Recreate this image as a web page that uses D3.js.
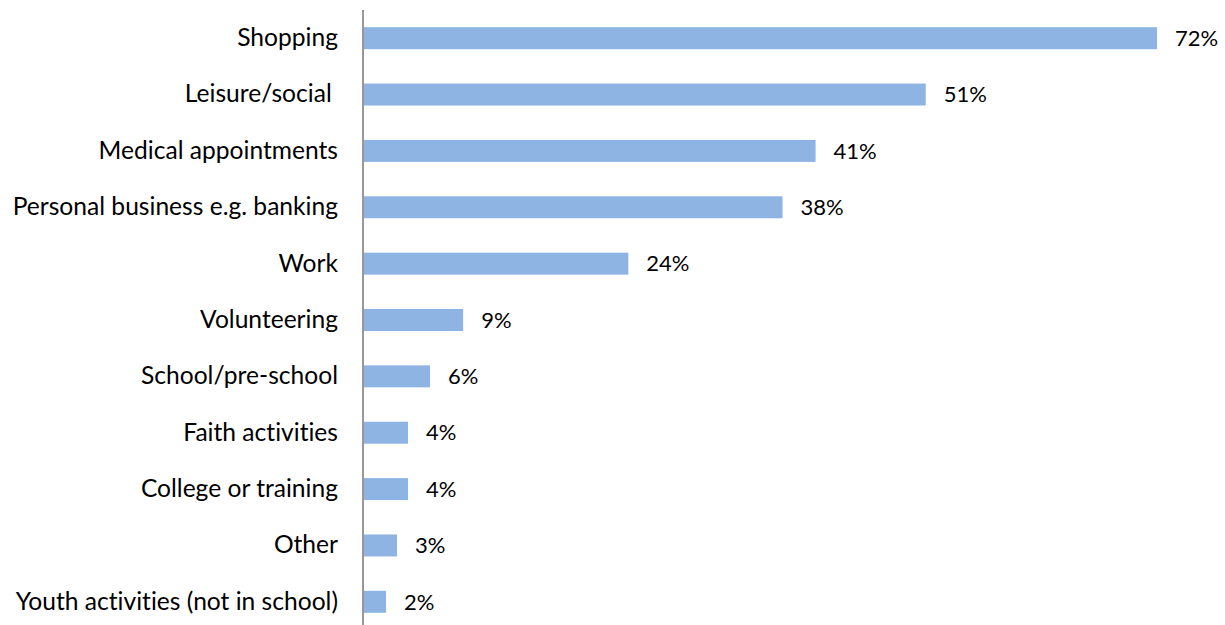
<!DOCTYPE html>
<html>
<head>
<meta charset="utf-8">
<script src="https://cdn.jsdelivr.net/npm/d3@7"></script>
<style>
  body { margin: 0; background: #fff; }
  text { font-family: Lato, sans-serif; fill: #000; font-variant-ligatures: none; }
</style>
</head>
<body>
<script>
// Data
var categories = ["Shopping", "Leisure/social ", "Medical appointments", "Personal business e.g. banking",
  "Work", "Volunteering", "School/pre-school", "Faith activities", "College or training",
  "Other", "Youth activities (not in school)"];
var values = [72, 51, 41, 38, 24, 9, 6, 4, 4, 3, 2];

var svgWidth = 1225;
var svgHeight = 625;
var margin = {top: 10, right: 20, bottom: 0, left: 364};

var svg = d3.select("body")
  .append("svg")
  .attr("width", svgWidth)
  .attr("height", svgHeight);

var chartGroup = svg.append("g")
  .attr("transform", `translate(${margin.left}, ${margin.top})`);

// 11 px per percent
var xScale = d3.scaleLinear().domain([0, 72]).range([0, 793]);
var yScale = d3.scaleBand().domain(categories).range([0, 620]).paddingInner(0.61).paddingOuter(0.305);

var rows = categories.map(function(c, i) { return {cat: c, val: values[i]}; });

chartGroup.selectAll("rect")
  .data(rows)
  .enter()
  .append("rect")
  .attr("x", 0)
  .attr("y", d => yScale(d.cat))
  .attr("width", d => xScale(d.val))
  .attr("height", yScale.bandwidth())
  .attr("fill", "#8EB4E3");

chartGroup.selectAll(".val")
  .data(rows)
  .enter()
  .append("text")
  .attr("class", "val")
  .attr("x", d => xScale(d.val) + 18)
  .attr("y", d => yScale(d.cat) + yScale.bandwidth() / 2)
  .attr("dy", "0.35em")
  .style("font-size", "22px")
  .text(d => d.val + "%");

var leftAxis = d3.axisLeft(yScale).tickSize(0).tickPadding(26);
var axisG = chartGroup.append("g").call(leftAxis);
axisG.select(".domain").attr("stroke", "#989898").attr("stroke-width", 2).attr("d", "M-1,0V620");
axisG.selectAll("text")
  .style("font-family", "Lato, sans-serif")
  .style("font-size", "24.6px")
  .style("font-variant-ligatures", "none")
  .attr("fill", "#000")
  .style("white-space", "pre");
</script>
</body>
</html>
